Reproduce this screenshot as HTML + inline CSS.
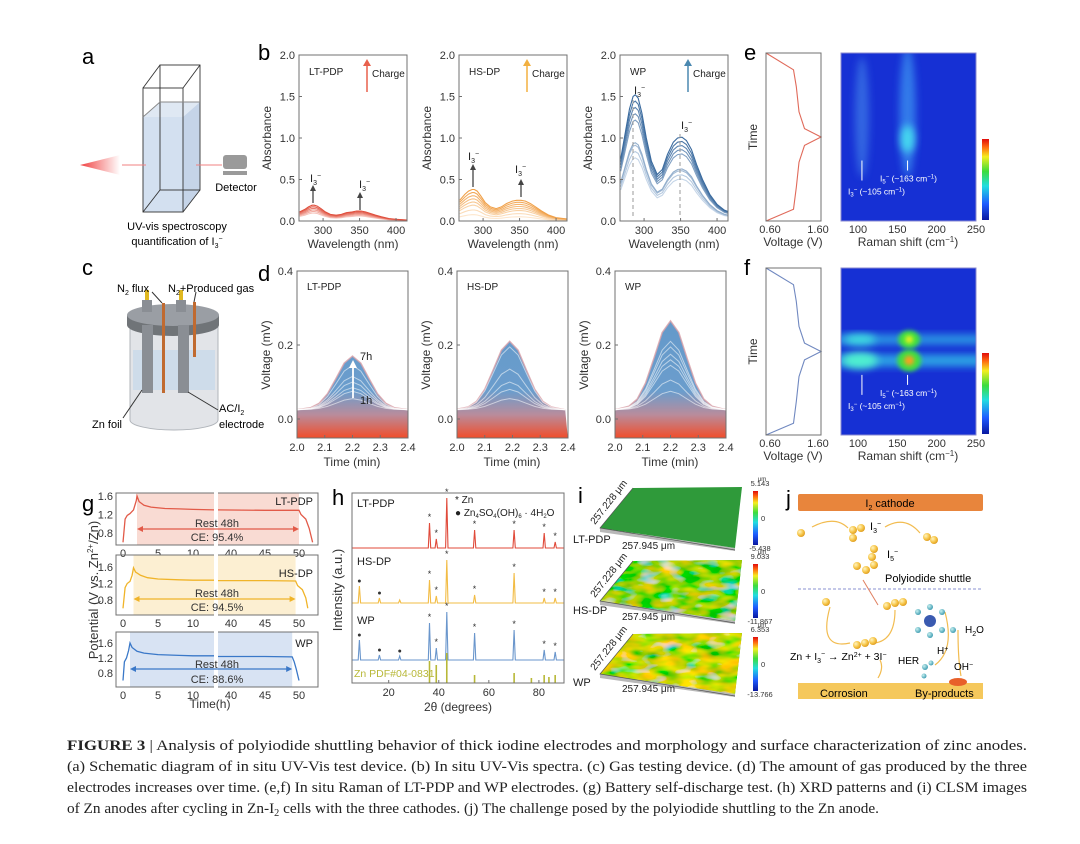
<!DOCTYPE html>
<html><head><meta charset="utf-8"><style>
html,body{margin:0;padding:0;background:#fff;}
svg{display:block;font-family:"Liberation Sans",sans-serif;}
.cap{font-family:"Liberation Serif",serif;font-size:15px;fill:#222;}
</style></head><body>
<svg id="fig" width="1080" height="844" viewBox="0 0 1080 844" xmlns="http://www.w3.org/2000/svg">
<defs>
<linearGradient id="gasGrad" x1="0" y1="271" x2="0" y2="438" gradientUnits="userSpaceOnUse">
<stop offset="0" stop-color="#5f97c9"/><stop offset="0.72" stop-color="#6b9dcc"/><stop offset="0.86" stop-color="#b98c9c"/><stop offset="1" stop-color="#f14d2b"/></linearGradient>
<linearGradient id="cbGrad" x1="0" y1="1" x2="0" y2="0">
<stop offset="0" stop-color="#0a18a0"/><stop offset="0.2" stop-color="#1f5cff"/><stop offset="0.42" stop-color="#22dde0"/><stop offset="0.6" stop-color="#3cdc3c"/><stop offset="0.78" stop-color="#f4ee20"/><stop offset="0.9" stop-color="#ff6a10"/><stop offset="1" stop-color="#e00c0c"/></linearGradient>
<linearGradient id="beam" x1="0" y1="0" x2="1" y2="0"><stop offset="0" stop-color="#f04040"/><stop offset="1" stop-color="#f04040" stop-opacity="0"/></linearGradient>
<radialGradient id="ball" cx="0.35" cy="0.35" r="0.7"><stop offset="0" stop-color="#fff4c0"/><stop offset="0.6" stop-color="#f6c445"/><stop offset="1" stop-color="#dc9a20"/></radialGradient>
<radialGradient id="bball" cx="0.35" cy="0.35" r="0.7"><stop offset="0" stop-color="#c8f0f0"/><stop offset="1" stop-color="#3a9ab0"/></radialGradient>
<filter id="blur4" x="-50%" y="-50%" width="200%" height="200%"><feGaussianBlur stdDeviation="4"/></filter>
<filter id="blur2" x="-50%" y="-50%" width="200%" height="200%"><feGaussianBlur stdDeviation="2"/></filter>
<filter id="tex" x="0" y="0" width="100%" height="100%">
<feTurbulence type="fractalNoise" baseFrequency="0.05 0.12" numOctaves="2" seed="3" result="n"/>
<feColorMatrix in="n" type="matrix" values="2 0 0 0 -0.72  0 0.4 0 0 0.45  0 0 -2.2 0 1.05  0 0 0 0 1" result="c"/>
<feComposite in="c" in2="SourceGraphic" operator="in"/></filter>
<filter id="tex3" x="0" y="0" width="100%" height="100%">
<feTurbulence type="fractalNoise" baseFrequency="0.05 0.12" numOctaves="2" seed="7" result="n"/>
<feColorMatrix in="n" type="matrix" values="2.2 0 0 0 -0.55  0 0.5 0 0 0.42  0 0 -2.2 0 0.9  0 0 0 0 1" result="c"/>
<feComposite in="c" in2="SourceGraphic" operator="in"/></filter>
</defs>

<!-- panel a -->
<g>
<text x="82" y="64" font-size="22">a</text>
<polygon points="143,117 160,102 200,102 183,117" fill="#dfe8f3"/>
<polygon points="143,117 183,117 183,212 143,212" fill="#d3e0f0"/>
<polygon points="183,117 200,102 200,190 183,212" fill="#c5d4e8"/>
<g fill="none" stroke="#333" stroke-width="0.9">
<rect x="143" y="88" width="40" height="124"/><rect x="160" y="65" width="40" height="125"/>
<line x1="143" y1="88" x2="160" y2="65"/><line x1="183" y1="88" x2="200" y2="65"/><line x1="183" y1="212" x2="200" y2="190"/><line x1="143" y1="212" x2="160" y2="190"/>
<line x1="143" y1="117" x2="160" y2="102" stroke="#888"/><line x1="160" y1="102" x2="200" y2="102" stroke="#888"/></g>
<polygon points="80,165 120,155 120,175" fill="url(#beam)"/>
<line x1="122" y1="165" x2="146" y2="165" stroke="#f08080" stroke-width="1"/>
<line x1="196" y1="165" x2="222" y2="165" stroke="#f08080" stroke-width="1"/>
<rect x="223" y="155" width="24" height="14" rx="3" fill="#9a9a9a"/>
<rect x="223" y="171" width="24" height="4" fill="#9a9a9a"/>
<text x="236" y="191" font-size="11" text-anchor="middle">Detector</text>
<text x="177" y="230" font-size="11" text-anchor="middle">UV-vis spectroscopy</text>
<text x="177" y="245" font-size="11" text-anchor="middle">quantification of I<tspan font-size="7" dy="3">3</tspan><tspan font-size="7" dy="-7">−</tspan></text>
</g>

<!-- panel c -->
<g>
<text x="82" y="275" font-size="22">c</text>
<path d="M130,318 L130,420 A44,10 0 0 0 218,420 L218,318 Z" fill="#e2e4e8" stroke="#b0b4ba"/>
<rect x="133" y="350" width="82" height="40" fill="#c9d9ea" opacity="0.8"/>
<path d="M127,315 L127,325 A46,11 0 0 0 219,325 L219,315 Z" fill="#707478"/>
<ellipse cx="173" cy="315" rx="46" ry="11" fill="#9a9ea4"/>
<rect x="142" y="325" width="11" height="68" fill="#8a8e94"/>
<rect x="178" y="325" width="11" height="68" fill="#8a8e94"/>
<rect x="162" y="303" width="3" height="90" fill="#c06a30"/>
<rect x="193" y="302" width="3" height="55" fill="#c06a30"/>
<rect x="142" y="300" width="10" height="12" fill="#8a8e94"/>
<rect x="176" y="300" width="10" height="12" fill="#8a8e94"/>
<rect x="145" y="290" width="4" height="10" fill="#e0b820"/>
<rect x="179" y="290" width="4" height="10" fill="#e0b820"/>
<line x1="152" y1="292" x2="162" y2="303" stroke="#333"/>
<line x1="196" y1="292" x2="194" y2="302" stroke="#333"/>
<text x="117" y="292" font-size="11">N<tspan font-size="7" dy="3">2</tspan><tspan dy="-3"> flux</tspan></text>
<text x="168" y="292" font-size="11">N<tspan font-size="7" dy="3">2</tspan><tspan dy="-3">+Produced gas</tspan></text>
<line x1="123" y1="418" x2="142" y2="390" stroke="#333"/>
<line x1="218" y1="410" x2="188" y2="392" stroke="#333"/>
<text x="92" y="428" font-size="11">Zn foil</text>
<text x="219" y="412" font-size="11">AC/I<tspan font-size="7" dy="3">2</tspan></text>
<text x="219" y="428" font-size="11">electrode</text>
</g>

<g id="charts"></g>

<!-- panel j -->
<g>
<text x="786" y="506" font-size="22">j</text>
<rect x="798" y="494" width="185" height="17" rx="2" fill="#e8853c"/>
<text x="890" y="507" font-size="11" text-anchor="middle">I<tspan font-size="7" dy="3">2</tspan><tspan dy="-3"> cathode</tspan></text>
<rect x="798" y="683" width="185" height="16" fill="#f5c85c"/>
<text x="820" y="697" font-size="11">Corrosion</text>
<text x="915" y="697" font-size="11">By-products</text>
<ellipse cx="958" cy="682" rx="9" ry="4" fill="#e8602a"/>
<line x1="798" y1="589" x2="983" y2="589" stroke="#8890d0" stroke-dasharray="3,2"/>
<text x="885" y="582" font-size="11">Polyiodide shuttle</text>
<g fill="none" stroke="#f2bc50" stroke-width="1.2">
<path d="M812,527 Q835,515 848,528"/><path d="M885,527 Q905,515 920,533"/><path d="M830,607 Q818,650 850,643"/><path d="M895,610 Q895,640 875,643"/><path d="M878,678 Q884,668 880,660"/><path d="M945,612 Q955,650 935,665"/><path d="M958,630 Q958,660 961,676"/></g>
<line x1="863" y1="580" x2="878" y2="605" stroke="#e08060"/>
<g>
<circle cx="801" cy="533" r="4" fill="url(#ball)"/>
<circle cx="853" cy="530" r="4" fill="url(#ball)"/><circle cx="861" cy="528" r="4" fill="url(#ball)"/><circle cx="853" cy="538" r="4" fill="url(#ball)"/>
<circle cx="927" cy="537" r="4" fill="url(#ball)"/><circle cx="934" cy="540" r="4" fill="url(#ball)"/>
<circle cx="874" cy="549" r="4" fill="url(#ball)"/><circle cx="872" cy="557" r="4" fill="url(#ball)"/><circle cx="874" cy="565" r="4" fill="url(#ball)"/><circle cx="866" cy="570" r="4" fill="url(#ball)"/><circle cx="857" cy="566" r="4" fill="url(#ball)"/>
<circle cx="826" cy="602" r="4" fill="url(#ball)"/>
<circle cx="887" cy="606" r="4" fill="url(#ball)"/><circle cx="895" cy="603" r="4" fill="url(#ball)"/><circle cx="903" cy="602" r="4" fill="url(#ball)"/>
<circle cx="857" cy="645" r="4" fill="url(#ball)"/><circle cx="865" cy="643" r="4" fill="url(#ball)"/><circle cx="873" cy="641" r="4" fill="url(#ball)"/></g>
<text x="870" y="530" font-size="11">I<tspan font-size="7" dy="3">3</tspan><tspan font-size="7" dy="-7">−</tspan></text>
<text x="887" y="558" font-size="11">I<tspan font-size="7" dy="3">5</tspan><tspan font-size="7" dy="-7">−</tspan></text>
<g>
<circle cx="930" cy="621" r="6" fill="#3a5ab0"/><circle cx="918" cy="612" r="3" fill="url(#bball)"/><circle cx="942" cy="612" r="3" fill="url(#bball)"/><circle cx="918" cy="630" r="3" fill="url(#bball)"/><circle cx="942" cy="630" r="3" fill="url(#bball)"/><circle cx="930" cy="607" r="3" fill="url(#bball)"/><circle cx="930" cy="635" r="3" fill="url(#bball)"/>
<circle cx="953" cy="630" r="3" fill="url(#bball)"/><circle cx="925" cy="667" r="3" fill="url(#bball)"/><circle cx="931" cy="663" r="2.5" fill="url(#bball)"/><circle cx="924" cy="676" r="2.5" fill="url(#bball)"/></g>
<text x="965" y="633" font-size="10">H<tspan font-size="7" dy="3">2</tspan><tspan dy="-3">O</tspan></text>
<text x="937" y="654" font-size="10">H<tspan font-size="7" dy="-3">+</tspan></text>
<text x="898" y="664" font-size="10">HER</text>
<text x="954" y="670" font-size="10">OH<tspan font-size="7" dy="-3">−</tspan></text>
<text x="790" y="660" font-size="10.5">Zn + I<tspan font-size="7" dy="3">3</tspan><tspan font-size="7" dy="-7">−</tspan><tspan dy="4"> → Zn</tspan><tspan font-size="7" dy="-3">2+</tspan><tspan dy="3"> + 3I</tspan><tspan font-size="7" dy="-3">−</tspan></text>
</g>

<!-- caption -->
<g>
<text class="cap" x="67" y="750" textLength="960" lengthAdjust="spacingAndGlyphs"><tspan font-weight="bold">FIGURE 3</tspan>  |  Analysis of polyiodide shuttling behavior of thick iodine electrodes and morphology and surface characterization of zinc anodes.</text>
<text class="cap" x="67" y="771" textLength="960" lengthAdjust="spacingAndGlyphs">(a) Schematic diagram of in situ UV-Vis test device. (b) In situ UV-Vis spectra. (c) Gas testing device. (d) The amount of gas produced by the three</text>
<text class="cap" x="67" y="792" textLength="960" lengthAdjust="spacingAndGlyphs">electrodes increases over time. (e,f) In situ Raman of LT-PDP and WP electrodes. (g) Battery self-discharge test. (h) XRD patterns and (i) CLSM images</text>
<text class="cap" x="67" y="813" textLength="812" lengthAdjust="spacingAndGlyphs">of Zn anodes after cycling in Zn-I<tspan font-size="10" dy="3">2</tspan><tspan dy="-3"> cells with the three cathodes. (j) The challenge posed by the polyiodide shuttling to the Zn anode.</tspan></text>
</g>
</svg>
<script>
// ---------- data ----------
const wavelengths = [268,275,280,285,288,292,297,303,310,318,325,332,340,346,352,358,365,372,380,390,400,410,420];
const absLT = [0.11,0.14,0.17,0.19,0.19,0.18,0.15,0.11,0.08,0.07,0.08,0.10,0.11,0.12,0.12,0.11,0.09,0.07,0.05,0.03,0.02,0.015,0.01];
const absHS = [0.25,0.32,0.36,0.38,0.38,0.36,0.30,0.22,0.17,0.15,0.17,0.21,0.24,0.25,0.25,0.24,0.21,0.17,0.12,0.07,0.04,0.03,0.02];
const absWP = [0.75,1.10,1.35,1.50,1.52,1.48,1.30,1.00,0.72,0.56,0.62,0.80,0.95,1.00,1.01,0.97,0.86,0.68,0.50,0.32,0.20,0.13,0.10];
const fracLT = [0.5,0.6,0.7,0.8,0.9,1.0];
const fracHS = [0.2,0.35,0.5,0.6,0.7,0.8,0.9,1.0];
const fracWP = [0.5,0.55,0.6,0.62,0.8,0.85,0.9,0.95,1.0];
const absTicks = [0,0.5,1.0,1.5,2.0];
const wlTicks = [300,350,400];

const gasTimes = [2.0,2.05,2.08,2.11,2.14,2.17,2.2,2.23,2.26,2.29,2.32,2.35,2.4];
const gasShape = [0,0.04,0.12,0.3,0.58,0.87,1,0.87,0.58,0.3,0.12,0.04,0];
const gasBase = 0.025;
const gasLT = [0.03,0.05,0.06,0.075,0.09,0.12,0.145];
const gasHS = [0.03,0.055,0.075,0.11,0.17,0.185];
const gasWP = [0.05,0.08,0.12,0.135,0.15,0.17,0.185,0.24];
const gasYTicks = [0.0,0.2,0.4];
const gasXTicks = [2.0,2.1,2.2,2.3,2.4];

const ramanVolt = [0.6,1.1,1.15,1.2,1.3,1.6,1.3,1.2,1.15,1.1,0.6];
const ramanTime = [0,0.1,0.2,0.35,0.45,0.5,0.55,0.65,0.8,0.93,1.0];
const ramanTicks = [100,150,200,250];

const sdT_LT = [0,0.3,0.6,1,1.5,1.9,2,2.3,3,4,6,8,10,13,38,45,50,50.3,51,51.5,52];
const sdV_LT = [0.6,1.1,1.18,1.22,1.3,1.5,1.6,1.48,1.4,1.36,1.33,1.32,1.31,1.3,1.3,1.29,1.29,1.2,1.1,0.9,0.6];
const sdT_HS = [0,0.3,0.6,1,1.3,1.5,1.8,2.5,3.5,5,8,10,13,38,45,49.5,49.8,50.5,51,51.3];
const sdV_HS = [0.6,1.1,1.2,1.25,1.4,1.58,1.48,1.4,1.34,1.31,1.29,1.28,1.28,1.27,1.27,1.26,1.15,1.05,0.85,0.6];
const sdT_WP = [0,0.2,0.5,0.8,1,1.3,2,3,5,8,10,13,38,45,49,49.3,49.6,50];
const sdV_WP = [0.6,1.1,1.2,1.4,1.6,1.48,1.38,1.33,1.29,1.27,1.26,1.26,1.24,1.24,1.23,1.1,0.9,0.6];
const sdCE = ["CE: 95.4%","CE: 94.5%","CE: 88.6%"];
const sdTicks = [0,5,10,40,45,50];

const xrdPeaks = [8.3,16.3,24.4,36.3,39.0,43.2,54.3,70.1,82.1,86.5];
const xrdLT = [0,0,0,25,9,50,18,18,15,6];
const xrdHS = [17,5,3,23,7,43,8,30,5,5];
const xrdWP = [20,5,4,37,12,48,27,30,10,8];
const pdfPeaks = [36.3,39.0,43.2,54.3,70.1,77.0,82.1,84.0,86.5];
const pdfHeights = [22,18,30,8,10,5,8,6,8];
const xrdTicks = [20,40,60,80];

// ---------- helpers ----------
const NS = 'http://www.w3.org/2000/svg';
const root = document.getElementById('charts');
function mk(tag, attrs, name, parent) {
  const el = document.createElementNS(NS, tag);
  for (const k in attrs) el.setAttribute(k, attrs[k]);
  
  
  (parent || root).appendChild(el);
  return el;
}
function txt(x, y, s, size, name, extra, parent) {
  const a = Object.assign({x: x, y: y, 'font-size': size}, extra || {});
  const el = mk('text', a, name, parent);
  el.textContent = s;
  return el;
}
function lin(d0, d1, r0, r1) { return v => r0 + (v - d0) * (r1 - r0) / (d1 - d0); }
function mixHex(a, b, t) {
  const pa = [1,3,5].map(i => parseInt(a.substr(i,2),16)), pb = [1,3,5].map(i => parseInt(b.substr(i,2),16));
  return 'rgb(' + pa.map((v,i) => Math.round(v + (pb[i]-v)*t)).join(',') + ')';
}
function frame(x0, y0, x1, y1, name, g) {
  mk('rect', {x: x0, y: y0, width: x1-x0, height: y1-y0, fill: 'none', stroke: '#707070', 'stroke-width': 1}, name, g);
}

// ---------- panel b ----------
txt(258, 60, 'b', 22, 'panel-label-b');
const bPlots = [
  {x0:299, data:absLT, fr:fracLT, c0:'#f6c4bc', c1:'#e0503e', name:'LT-PDP', arrow:'#e8604c'},
  {x0:459, data:absHS, fr:fracHS, c0:'#fde6cc', c1:'#f0a048', name:'HS-DP', arrow:'#f2b040'},
  {x0:620, data:absWP, fr:fracWP, c0:'#c6d6e8', c1:'#3a6a9e', name:'WP', arrow:'#4a88b0'}
];
bPlots.forEach((p, pi) => {
  const g = mk('g', {}, 'absorbance-plot-' + p.name.toLowerCase());
  const x = lin(267, 415, p.x0, p.x0 + 108), y = lin(0, 2, 221, 55);
  const clipId = 'clipb' + pi;
  const cp = mk('clipPath', {id: clipId}, 'plot-clip', g);
  mk('rect', {x: p.x0, y: 55, width: 108, height: 166}, 'clip-rect', cp);
  const lg = mk('g', {'clip-path': 'url(#' + clipId + ')'}, 'spectra-series', g);
  p.fr.forEach((f, i) => {
    const pts = wavelengths.map((w, k) => x(w).toFixed(1) + ',' + y(p.data[k] * f).toFixed(1)).join(' ');
    mk('polyline', {points: pts, fill: 'none', stroke: mixHex(p.c0, p.c1, i / (p.fr.length - 1)), 'stroke-width': 1.1}, 'spectrum-line', lg);
  });
  frame(p.x0, 55, p.x0 + 108, 221, 'plot-frame', g);
  absTicks.forEach(t => {
    mk('line', {x1: p.x0, x2: p.x0 + 3, y1: y(t), y2: y(t), stroke: '#707070'}, 'y-tick', g);
    txt(p.x0 - 4, y(t) + 4, t.toFixed(1), 11, 'y-tick-label', {'text-anchor': 'end', fill: '#333'}, g);
  });
  wlTicks.forEach(t => {
    mk('line', {x1: x(t), x2: x(t), y1: 221, y2: 218, stroke: '#707070'}, 'x-tick', g);
    txt(x(t), 234, String(t), 11, 'x-tick-label', {'text-anchor': 'middle', fill: '#333'}, g);
  });
  txt(p.x0 + 54, 248, 'Wavelength (nm)', 12, 'x-axis-title', {'text-anchor': 'middle', fill: '#333'}, g);
  txt(0, 0, 'Absorbance', 12, 'y-axis-title', {'text-anchor': 'middle', fill: '#333', transform: 'translate(' + (p.x0 - 28) + ',138) rotate(-90)'}, g);
  txt(p.x0 + 10, 75, p.name, 10, 'series-label', {fill: '#222'}, g);
  mk('line', {x1: p.x0 + 68, x2: p.x0 + 68, y1: 92, y2: 64, stroke: p.arrow, 'stroke-width': 1.5}, 'charge-arrow', g);
  mk('polygon', {points: (p.x0+64)+',66 '+(p.x0+72)+',66 '+(p.x0+68)+',59', fill: p.arrow}, 'charge-arrow-head', g);
  txt(p.x0 + 73, 77, 'Charge', 10, 'charge-label', {fill: '#222'}, g);
});
function i3(xp, yp, name) {
  const t = mk('text', {x: xp, y: yp, 'font-size': 11, fill: '#222'}, name);
  t.innerHTML = 'I<tspan font-size="7" dy="3">3</tspan><tspan font-size="7" dy="-7">−</tspan>';
}
function upArrow(xp, y1, y2, color, name) {
  mk('line', {x1: xp, x2: xp, y1: y1, y2: y2 + 4, stroke: color, 'stroke-width': 1.3}, name);
  mk('polygon', {points: (xp-3)+','+(y2+5)+' '+(xp+3)+','+(y2+5)+' '+xp+','+(y2-1)}, name + '-head').setAttribute('fill', color);
}
i3(310, 182, 'i3-label-lt-1'); upArrow(313, 203, 186, '#444', 'i3-arrow-lt-1');
i3(359, 188, 'i3-label-lt-2'); upArrow(360, 210, 193, '#444', 'i3-arrow-lt-2');
i3(468, 160, 'i3-label-hs-1'); upArrow(473, 187, 165, '#444', 'i3-arrow-hs-1');
i3(515, 173, 'i3-label-hs-2'); upArrow(521, 197, 180, '#444', 'i3-arrow-hs-2');
i3(634, 94, 'i3-label-wp-1'); i3(681, 129, 'i3-label-wp-2');
mk('line', {x1: 633, x2: 633, y1: 100, y2: 218, stroke: '#999', 'stroke-dasharray': '4,3'}, 'peak-guide-288');
mk('line', {x1: 680, x2: 680, y1: 134, y2: 218, stroke: '#999', 'stroke-dasharray': '4,3'}, 'peak-guide-352');

// ---------- panel d ----------
txt(258, 281, 'd', 22, 'panel-label-d');
const dPlots = [
  {x0:297, data:gasLT, name:'LT-PDP', shift:0},
  {x0:457, data:gasHS, name:'HS-DP', shift:-0.01},
  {x0:615, data:gasWP, name:'WP', shift:0}
];
dPlots.forEach((p, pi) => {
  const g = mk('g', {}, 'gas-plot-' + p.name.toLowerCase());
  const x = lin(2.0, 2.4, p.x0, p.x0 + 111), y = lin(0, 0.4, 419, 271);
  const cid = 'clipd' + pi;
  const cp = mk('clipPath', {id: cid}, 'plot-clip', g);
  mk('rect', {x: p.x0, y: 271, width: 111, height: 167}, 'clip-rect', cp);
  const lg = mk('g', {'clip-path': 'url(#' + cid + ')'}, 'gas-series', g);
  const top = p.data[p.data.length - 1];
  const topPts = gasTimes.map((t, k) => x(t + p.shift).toFixed(1) + ',' + y(gasBase + top * gasShape[k]).toFixed(1));
  mk('polygon', {points: x(2.0) + ',440 ' + topPts.join(' ') + ' ' + x(2.4) + ',440', fill: 'url(#gasGrad)'}, 'gas-area-fill', lg);
  mk('polyline', {points: topPts.join(' '), fill: 'none', stroke: '#d9a0a8', 'stroke-width': 1.5, opacity: 0.8}, 'gas-top-curve', lg);
  p.data.slice(0, -1).forEach(h => {
    const pts = gasTimes.map((t, k) => x(t + p.shift).toFixed(1) + ',' + y(gasBase + h * gasShape[k]).toFixed(1)).join(' ');
    mk('polyline', {points: pts, fill: 'none', stroke: '#ffffff', 'stroke-width': 1, opacity: 0.55}, 'gas-curve', lg);
  });
  frame(p.x0, 271, p.x0 + 111, 438, 'plot-frame', g);
  gasYTicks.forEach(t => {
    mk('line', {x1: p.x0, x2: p.x0 + 3, y1: y(t), y2: y(t), stroke: '#707070'}, 'y-tick', g);
    txt(p.x0 - 4, y(t) + 4, t.toFixed(1), 11, 'y-tick-label', {'text-anchor': 'end', fill: '#333'}, g);
  });
  gasXTicks.forEach(t => {
    mk('line', {x1: x(t), x2: x(t), y1: 438, y2: 435, stroke: '#707070'}, 'x-tick', g);
    txt(x(t), 451, t.toFixed(1), 11, 'x-tick-label', {'text-anchor': 'middle', fill: '#333'}, g);
  });
  txt(p.x0 + 55, 466, 'Time (min)', 12, 'x-axis-title', {'text-anchor': 'middle', fill: '#333'}, g);
  txt(0, 0, 'Voltage (mV)', 12, 'y-axis-title', {'text-anchor': 'middle', fill: '#333', transform: 'translate(' + (p.x0 - 27) + ',355) rotate(-90)'}, g);
  txt(p.x0 + 10, 290, p.name, 10, 'series-label', {fill: '#222'}, g);
});
mk('line', {x1: 353, x2: 353, y1: 398, y2: 366, stroke: '#fff', 'stroke-width': 1.8}, 'time-arrow');
mk('polygon', {points: '349,368 357,368 353,360', fill: '#fff'}, 'time-arrow-head');
txt(360, 360, '7h', 11, 'label-7h', {fill: '#222'});
txt(360, 404, '1h', 11, 'label-1h', {fill: '#222'});

// ---------- panels e, f ----------
function ramanPanel(y0, y1, color, letter, hot) {
  const g = mk('g', {}, 'raman-panel-' + letter);
  txt(744, y0 + 7, letter, 22, 'panel-label-' + letter, {}, g);
  const vx = lin(0.6, 1.6, 766, 821), ty = lin(0, 1, y0, y1);
  const pts = ramanVolt.map((v, k) => vx(v).toFixed(1) + ',' + ty(ramanTime[k]).toFixed(1)).join(' ');
  mk('polyline', {points: pts, fill: 'none', stroke: color, 'stroke-width': 1.1}, 'voltage-profile', g);
  frame(766, y0, 821, y1, 'voltage-frame', g);
  txt(770, y1 + 12, '0.60', 11, 'x-tick-label', {'text-anchor': 'middle', fill: '#333'}, g);
  txt(818, y1 + 12, '1.60', 11, 'x-tick-label', {'text-anchor': 'middle', fill: '#333'}, g);
  txt(793, y1 + 25, 'Voltage (V)', 12, 'x-axis-title', {'text-anchor': 'middle', fill: '#333'}, g);
  txt(0, 0, 'Time', 12, 'y-axis-title', {'text-anchor': 'middle', fill: '#333', transform: 'translate(757,' + ((y0+y1)/2) + ') rotate(-90)'}, g);
  const rx = lin(100, 250, 858, 976);
  const cid = 'clipr' + letter;
  const cp = mk('clipPath', {id: cid}, 'heatmap-clip', g);
  mk('rect', {x: 841, y: y0, width: 135, height: y1 - y0}, 'clip-rect', cp);
  const hg = mk('g', {'clip-path': 'url(#' + cid + ')'}, 'raman-heatmap', g);
  mk('rect', {x: 841, y: y0, width: 135, height: y1 - y0, fill: '#1630d4'}, 'heatmap-background', hg);
  const my = y0 + (y1 - y0) * 0.5;
  if (!hot) {
    mk('ellipse', {cx: rx(105), cy: my - 20, rx: 7, ry: 60, fill: '#3f7ee8', opacity: 0.7, filter: 'url(#blur4)'}, 'i3-band', hg);
    mk('ellipse', {cx: rx(163), cy: my - 25, rx: 8, ry: 65, fill: '#3b8ef0', opacity: 0.8, filter: 'url(#blur4)'}, 'i5-band', hg);
    mk('ellipse', {cx: rx(163), cy: my + 2, rx: 7, ry: 14, fill: '#44d8f0', filter: 'url(#blur4)'}, 'i5-hotspot', hg);
  } else {
    mk('rect', {x: 835, y: my - 17, width: 150, height: 10, fill: '#30b0e8', opacity: 0.8, filter: 'url(#blur4)'}, 'band-upper', hg);
    mk('rect', {x: 835, y: my + 3, width: 150, height: 12, fill: '#30b8e8', opacity: 0.85, filter: 'url(#blur4)'}, 'band-lower', hg);
    mk('ellipse', {cx: 860, cy: my + 9, rx: 18, ry: 8, fill: '#50f0d0', filter: 'url(#blur4)'}, 'i3-spot', hg);
    mk('ellipse', {cx: 860, cy: my - 12, rx: 16, ry: 5, fill: '#40e0e0', filter: 'url(#blur4)'}, 'i3-spot-upper', hg);
    mk('ellipse', {cx: rx(165), cy: my - 12, rx: 11, ry: 9, fill: '#40e040', filter: 'url(#blur2)'}, 'i5-spot-upper', hg);
    mk('ellipse', {cx: rx(165), cy: my - 12, rx: 4, ry: 4, fill: '#e8f020', filter: 'url(#blur2)'}, 'i5-core-upper', hg);
    mk('ellipse', {cx: rx(165), cy: my + 9, rx: 12, ry: 11, fill: '#40e040', filter: 'url(#blur2)'}, 'i5-spot-lower', hg);
    mk('ellipse', {cx: rx(165), cy: my + 9, rx: 5, ry: 5, fill: '#f8a020', filter: 'url(#blur2)'}, 'i5-core-lower', hg);
  }
  mk('rect', {x: 841, y: y0, width: 135, height: y1 - y0, fill: 'none', stroke: '#8a8ad0'}, 'heatmap-frame', g);
  ramanTicks.forEach(t => {
    txt(rx(t), y1 + 12, String(t), 11, 'x-tick-label', {'text-anchor': 'middle', fill: '#333'}, g);
  });
  const tt = txt(908, y1 + 25, '', 12, 'x-axis-title', {'text-anchor': 'middle', fill: '#333'}, g);
  tt.innerHTML = 'Raman shift (cm<tspan font-size="8" dy="-4">−1</tspan><tspan dy="4">)</tspan>';
  const ay = y0 + (y1 - y0) * 0.64;
  mk('line', {x1: rx(105), x2: rx(105), y1: ay, y2: ay + 20, stroke: '#fff'}, 'i3-marker-arrow', g);
  mk('line', {x1: rx(163), x2: rx(163), y1: ay, y2: ay + 10, stroke: '#fff'}, 'i5-marker-arrow', g);
  const l1 = txt(880, ay + 21, '', 8.5, 'i5-annotation', {fill: '#fff'}, g);
  l1.innerHTML = 'I<tspan font-size="6" dy="2">5</tspan><tspan font-size="6" dy="-5">−</tspan><tspan dy="3"> (~163 cm</tspan><tspan font-size="6" dy="-3">−1</tspan><tspan dy="3">)</tspan>';
  const l2 = txt(848, ay + 34, '', 8.5, 'i3-annotation', {fill: '#fff'}, g);
  l2.innerHTML = 'I<tspan font-size="6" dy="2">3</tspan><tspan font-size="6" dy="-5">−</tspan><tspan dy="3"> (~105 cm</tspan><tspan font-size="6" dy="-3">−1</tspan><tspan dy="3">)</tspan>';
  mk('rect', {x: 982, y: y1 - 82, width: 7, height: 81, fill: 'url(#cbGrad)'}, 'colorbar', g);
}
ramanPanel(53, 221, '#e06a5a', 'e', false);
ramanPanel(268, 435, '#7088c0', 'f', true);

// ---------- panel g ----------
txt(82, 511, 'g', 22, 'panel-label-g');
const gBoxes = [
  {y0:493, y1:545, y16:496, y08:533, t:sdT_LT, v:sdV_LT, line:'#e25a48', fill:'#f9dbd3', tS:2, tE:50, label:'LT-PDP', rest:523, arr:529, ce:541, lab:501},
  {y0:555, y1:615, y16:567, y08:600, t:sdT_HS, v:sdV_HS, line:'#f0b429', fill:'#fcefd2', tS:1.5, tE:49.5, label:'HS-DP', rest:593, arr:599, ce:611, lab:573},
  {y0:632, y1:687, y16:643, y08:673, t:sdT_WP, v:sdV_WP, line:'#3a78c8', fill:'#d8e3f3', tS:1, tE:49, label:'WP', rest:664, arr:669, ce:683, lab:643}
];
function gx(t) { return t <= 20 ? 123 + t * 7.0 : 231 + (t - 40) * 6.8; }
gBoxes.forEach((b, i) => {
  const g = mk('g', {}, 'self-discharge-plot-' + b.label.toLowerCase());
  const y = lin(0.8, 1.6, b.y08, b.y16);
  mk('rect', {x: gx(b.tS), y: b.y0, width: gx(b.tE) - gx(b.tS), height: b.y1 - b.y0, fill: b.fill}, 'rest-shading', g);
  const cid = 'clipg' + i;
  const cp = mk('clipPath', {id: cid}, 'plot-clip', g);
  mk('rect', {x: 116, y: b.y0, width: 202, height: b.y1 - b.y0}, 'clip-rect', cp);
  const pts = b.t.map((t, k) => gx(t).toFixed(1) + ',' + y(b.v[k]).toFixed(1)).join(' ');
  mk('polyline', {points: pts, fill: 'none', stroke: b.line, 'stroke-width': 1.3, 'clip-path': 'url(#' + cid + ')'}, 'potential-curve', g);
  frame(116, b.y0, 318, b.y1, 'plot-frame', g);
  mk('rect', {x: 214, y: b.y0 - 2, width: 4, height: b.y1 - b.y0 + 4, fill: '#fff'}, 'axis-break', g);
  [1.6, 1.2, 0.8].forEach(v => txt(113, y(v) + 4, v.toFixed(1), 11, 'y-tick-label', {'text-anchor': 'end', fill: '#333'}, g));
  sdTicks.forEach(t => txt(gx(t), b.y1 + 12, String(t), 11, 'x-tick-label', {'text-anchor': 'middle', fill: '#333'}, g));
  txt(313, b.lab + 4, b.label, 11, 'series-label', {'text-anchor': 'end', fill: '#222'}, g);
  txt(217, b.rest + 4, 'Rest 48h', 11, 'rest-label', {'text-anchor': 'middle', fill: '#333'}, g);
  mk('line', {x1: gx(b.tS) + 4, x2: gx(b.tE) - 4, y1: b.arr, y2: b.arr, stroke: b.line, 'stroke-width': 1.2}, 'rest-arrow', g);
  mk('polygon', {points: gx(b.tS)+','+b.arr+' '+(gx(b.tS)+6)+','+(b.arr-3)+' '+(gx(b.tS)+6)+','+(b.arr+3), fill: b.line}, 'rest-arrow-left', g);
  mk('polygon', {points: gx(b.tE)+','+b.arr+' '+(gx(b.tE)-6)+','+(b.arr-3)+' '+(gx(b.tE)-6)+','+(b.arr+3), fill: b.line}, 'rest-arrow-right', g);
  txt(217, b.ce, sdCE[i], 11, 'ce-label', {'text-anchor': 'middle', fill: '#333'}, g);
});
const gyt = txt(0, 0, '', 13, 'y-axis-title-potential', {'text-anchor': 'middle', fill: '#333', transform: 'translate(98,590) rotate(-90)'});
gyt.innerHTML = 'Potential (V vs. Zn<tspan font-size="8" dy="-5">2+</tspan><tspan dy="5">/Zn)</tspan>';
txt(210, 708, 'Time(h)', 12, 'x-axis-title-time', {'text-anchor': 'middle', fill: '#333'});

// ---------- panel h ----------
txt(332, 505, 'h', 22, 'panel-label-h');
(function() {
  const g = mk('g', {}, 'xrd-plot');
  const x = lin(20, 80, 388.7, 538.9);
  const sections = [
    {base:548, h:xrdLT, color:'#e04a3a', label:'LT-PDP', ly:507},
    {base:603, h:xrdHS, color:'#f2bc45', label:'HS-DP', ly:565},
    {base:660, h:xrdWP, color:'#6a96cc', label:'WP', ly:624}
  ];
  sections.forEach(s => {
    let d = 'M352,' + s.base;
    xrdPeaks.forEach((p, k) => {
      if (s.h[k] <= 0) return;
      d += ' L' + (x(p) - 1.2).toFixed(1) + ',' + s.base + ' L' + x(p).toFixed(1) + ',' + (s.base - s.h[k]) + ' L' + (x(p) + 1.2).toFixed(1) + ',' + s.base;
    });
    d += ' L564,' + s.base;
    mk('path', {d: d, fill: 'none', stroke: s.color, 'stroke-width': 1.1}, 'xrd-pattern-' + s.label.toLowerCase(), g);
    xrdPeaks.forEach((p, k) => {
      if (s.h[k] <= 3) return;
      const sym = p < 30 ? '●' : '*';
      txt(x(p), s.base - s.h[k] - 3, sym, sym === '*' ? 9 : 7, 'peak-marker', {'text-anchor': 'middle', fill: '#333'}, g);
    });
    txt(357, s.ly, s.label, 11, 'series-label', {fill: '#222'}, g);
  });
  pdfPeaks.forEach((p, k) => {
    mk('line', {x1: x(p), x2: x(p), y1: 683, y2: 683 - pdfHeights[k], stroke: '#b8b838', 'stroke-width': 1.6}, 'pdf-reference-line', g);
  });
  txt(354, 677, 'Zn PDF#04-0831', 10.5, 'pdf-label', {fill: '#b8b838'}, g);
  frame(352, 493, 564, 683, 'plot-frame', g);
  xrdTicks.forEach(t => {
    mk('line', {x1: x(t), x2: x(t), y1: 683, y2: 680, stroke: '#707070'}, 'x-tick', g);
    txt(x(t), 696, String(t), 11, 'x-tick-label', {'text-anchor': 'middle', fill: '#333'}, g);
  });
  txt(458, 711, '2θ (degrees)', 12, 'x-axis-title', {'text-anchor': 'middle', fill: '#333'}, g);
  txt(0, 0, 'Intensity (a.u.)', 13, 'y-axis-title', {'text-anchor': 'middle', fill: '#333', transform: 'translate(342,590) rotate(-90)'}, g);
  txt(455, 503, '* Zn', 10, 'legend-zn', {fill: '#222'}, g);
  const l2 = txt(455, 516, '', 10, 'legend-zn-sulfate', {fill: '#222'}, g);
  l2.innerHTML = '● Zn<tspan font-size="6" dy="2">4</tspan><tspan dy="-2">SO</tspan><tspan font-size="6" dy="2">4</tspan><tspan dy="-2">(OH)</tspan><tspan font-size="6" dy="2">6</tspan><tspan dy="-2"> · 4H</tspan><tspan font-size="6" dy="2">2</tspan><tspan dy="-2">O</tspan>';
})();

// ---------- panel i ----------
txt(578, 503, 'i', 22, 'panel-label-i');
const iSlabs = [
  {dy:0, label:'LT-PDP', top:'5.143', bot:'-5.438', flat:true, ly:543},
  {dy:73, label:'HS-DP', top:'9.033', bot:'-11.867', flat:false, ly:614},
  {dy:146, label:'WP', top:'6.353', bot:'-13.766', flat:false, ly:686}
];
iSlabs.forEach((s, i) => {
  const g = mk('g', {}, 'clsm-image-' + s.label.toLowerCase());
  const pts = '633,' + (488+s.dy) + ' 742,' + (487+s.dy) + ' 735,' + (548+s.dy) + ' 600,' + (528+s.dy);
  mk('polygon', {points: '600,' + (528+s.dy) + ' 735,' + (548+s.dy) + ' 735,' + (551+s.dy) + ' 600,' + (532+s.dy), fill: '#b8b8b8'}, 'slab-side', g);
  if (s.flat) {
    mk('polygon', {points: pts, fill: '#2f9a3a'}, 'surface-map', g);
  } else {
    mk('polygon', {points: pts, fill: '#4a9a3a'}, 'surface-base', g);
    mk('polygon', {points: pts, fill: '#4a9a3a', filter: i === 1 ? 'url(#tex)' : 'url(#tex3)'}, 'surface-map', g);
  }
  mk('polyline', {points: '633,' + (488+s.dy) + ' 600,' + (528+s.dy) + ' 735,' + (550+s.dy), fill: 'none', stroke: '#555', 'stroke-width': 0.7}, 'surface-axes', g);
  txt(0, 0, '257.228 μm', 10, 'y-dimension-label', {fill: '#222', transform: 'translate(595,' + (525+s.dy) + ') rotate(-52)'}, g);
  txt(573, s.ly, s.label, 11, 'sample-label', {fill: '#222'}, g);
  txt(622, s.ly + 6, '257.945 μm', 10, 'x-dimension-label', {fill: '#222'}, g);
  mk('rect', {x: 753, y: 491 + s.dy, width: 5, height: 54, fill: 'url(#cbGrad)'}, 'height-colorbar', g);
  txt(760, 486 + s.dy, s.top, 7.5, 'colorbar-max', {'text-anchor': 'middle', fill: '#333'}, g);
  txt(762, 481 + s.dy, 'μm', 6, 'colorbar-unit', {'text-anchor': 'middle', fill: '#333'}, g);
  txt(761, 521 + s.dy, '0', 7.5, 'colorbar-zero', {fill: '#333'}, g);
  txt(760, 551 + s.dy, s.bot, 7.5, 'colorbar-min', {'text-anchor': 'middle', fill: '#333'}, g);
});
</script>
</body></html>
